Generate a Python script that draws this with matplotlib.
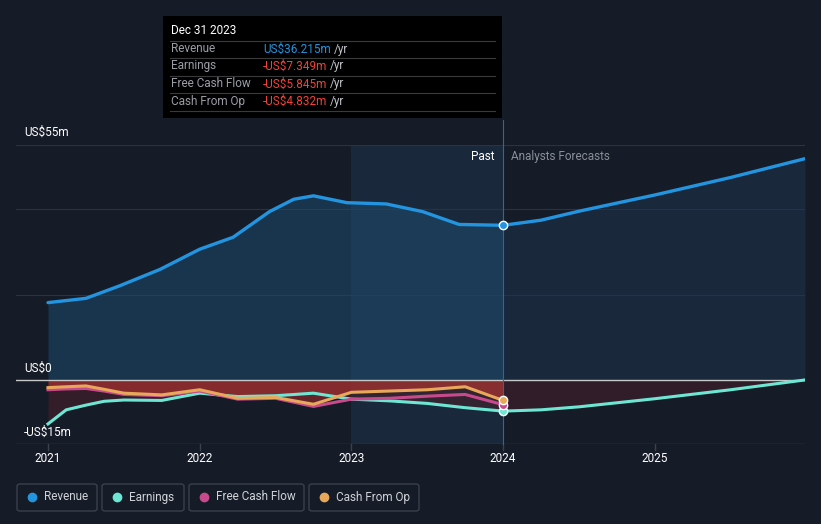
import numpy as np
import matplotlib.pyplot as plt
from matplotlib.patches import Rectangle, FancyBboxPatch

plt.rcParams['font.family'] = ['Roboto', 'DejaVu Sans']

# values in US$ millions
rev_years = [2021.0, 2021.25, 2021.47, 2021.74, 2022.0, 2022.22, 2022.46,
             2022.62, 2022.75, 2022.97, 2023.23, 2023.47, 2023.71, 2024.0]
revenue_past = [18.1, 19.1, 22.0, 25.9, 30.6, 33.4, 39.4, 42.3, 43.1, 41.5,
                41.2, 39.4, 36.4, 36.2]

years_past = [2021.0, 2021.12, 2021.25, 2021.37, 2021.5, 2021.75, 2022.0,
              2022.25, 2022.5, 2022.75, 2023.0, 2023.25, 2023.5, 2023.75,
              2024.0]
earnings_past = [-10.3, -7.0, -5.9, -5.0, -4.7, -4.8, -3.1, -3.9, -3.7, -3.1,
                 -4.5, -4.9, -5.5, -6.5, -7.3]
fcf_past = [-2.3, -2.1, -2.0, -2.6, -3.4, -3.7, -2.6, -4.5, -4.3, -6.2, -4.5,
            -4.3, -3.8, -3.4, -5.8]
cfo_past = [-1.8, -1.6, -1.4, -2.2, -3.1, -3.5, -2.3, -4.3, -4.1, -5.7, -2.9,
            -2.6, -2.3, -1.6, -4.8]

years_fc = [2024.0, 2024.25, 2024.5, 2025.0, 2025.5, 2025.99]
revenue_fc = [36.2, 37.4, 39.5, 43.3, 47.4, 51.8]
earnings_fc = [-7.3, -7.0, -6.3, -4.4, -2.3, 0.0]

tick_years = [2021, 2022, 2023, 2024, 2025]

BG = '#151b27'
BLUE = '#2394df'
TEAL = '#6ee6d4'
PINK = '#c94a8c'
ORANGE = '#e8a85a'
RED = '#f0433a'
FS = 8.5

W, H = 821, 524
fig = plt.figure(figsize=(W / 100, H / 100), dpi=100, facecolor=BG)

# axes pixel box: x 16..805, y 145..444
ax = fig.add_axes([16 / W, (H - 444) / H, (805 - 16) / W, (444 - 145) / H])
ax.set_facecolor(BG)
x0 = 2021 + (16 - 48) / 151.75
ax.set_xlim(x0, 2025.99)
ax.set_ylim(-15, 55)
for s in ax.spines.values():
    s.set_visible(False)
ax.set_xticks([])
ax.set_yticks([])

# highlighted last year of the past
ax.axvspan(2023, 2024, color='#19293b', zorder=0, lw=0)

# grid lines
for gy in [55, 40, 20]:
    ax.axhline(gy, color='#2c3340', lw=0.8, zorder=1)
ax.axhline(-15, color='#3a414d', lw=1.0, zorder=1)

# revenue fill
ax.fill_between(rev_years, 0, revenue_past, color='#1d4a6e', alpha=0.55,
                lw=0, zorder=2)
ax.fill_between(years_fc, 0, revenue_fc, color='#1d3550', alpha=0.5,
                lw=0, zorder=2)

# negative fill
ax.fill_between(years_past, 0, cfo_past, color='#a3302f', alpha=0.8,
                lw=0, zorder=2)
ax.fill_between(years_past, cfo_past, earnings_past, color='#4a2029',
                alpha=0.55, lw=0, zorder=2)
ax.fill_between(years_fc, 0, earnings_fc, color='#3a1f2a', alpha=0.75,
                lw=0, zorder=2)

ax.axhline(0, color='#c8c8c8', lw=1.0, zorder=3)

ax.plot(rev_years, revenue_past, color=BLUE, lw=2.4, zorder=5,
        solid_capstyle='round', solid_joinstyle='round')
ax.plot(years_fc, revenue_fc, color=BLUE, lw=2.4, zorder=5,
        solid_capstyle='round', solid_joinstyle='round')
ax.plot(years_past, earnings_past, color=TEAL, lw=2.2, zorder=4,
        solid_joinstyle='round')
ax.plot(years_fc, earnings_fc, color=TEAL, lw=2.2, zorder=4,
        solid_joinstyle='round')
ax.plot(years_past, fcf_past, color=PINK, lw=2.2, zorder=4,
        solid_joinstyle='round')
ax.plot(years_past, cfo_past, color=ORANGE, lw=2.2, zorder=4,
        solid_joinstyle='round')

for val, col in [(revenue_past[-1], BLUE), (earnings_past[-1], TEAL),
                 (fcf_past[-1], PINK), (cfo_past[-1], ORANGE)]:
    ax.plot([2024], [val], 'o', ms=6, mfc=col, mec='white', mew=1.0,
            zorder=6)

# vertical marker line at Dec 31 2023
ax.plot([2024, 2024], [-15, 60.8], color='#2a6a9a', lw=0.8, zorder=3,
        clip_on=False)

ax.text(2024 - 0.06, 52.4, 'Past', color='white', fontsize=FS,
        ha='right', va='center')
ax.text(2024 + 0.05, 52.4, 'Analysts Forecasts', color='#8a8f98',
        fontsize=FS, ha='left', va='center')

# y labels
fig.text(24 / W, 1 - 132 / H, 'US$55m', color='white', fontsize=FS,
         va='center')
fig.text(24 / W, 1 - 368 / H, 'US$0', color='white', fontsize=FS,
         va='center')
fig.text(24 / W, 1 - 432 / H, '-US$15m', color='white', fontsize=FS,
         va='center')

# x ticks
for yr in tick_years:
    ax.plot([yr, yr], [-15, -16.4], color='#3a414d', lw=1.0, clip_on=False)
    ax.text(yr, -18.3, str(yr), color='white', fontsize=FS, ha='center',
            va='center')

# tooltip
fig.patches.append(Rectangle((163 / W, 1 - 118 / H), (502 - 163) / W,
                             (118 - 16) / H, transform=fig.transFigure,
                             facecolor='black', edgecolor='none', zorder=10))
fig.text(171 / W, 1 - 31 / H, 'Dec 31 2023', color='white', fontsize=FS,
         va='center', zorder=11)
rows = [('Revenue', 'US$36.215m', BLUE, 49),
        ('Earnings', '-US$7.349m', RED, 66),
        ('Free Cash Flow', '-US$5.845m', RED, 84),
        ('Cash From Op', '-US$4.832m', RED, 101)]
for sep in [41, 58, 76, 93, 111]:
    fig.add_artist(plt.Line2D([170 / W, 495 / W], [1 - sep / H, 1 - sep / H],
                              transform=fig.transFigure, color='#3a3a3a',
                              lw=0.8, zorder=11))
for name, val, col, yy in rows:
    fig.text(171 / W, 1 - yy / H, name, color='#9a9ea5', fontsize=FS,
             va='center', zorder=11)
    t = fig.text(263 / W, 1 - yy / H, val, color=col, fontsize=FS,
                 va='center', zorder=11)
    fig.canvas.draw()
    bb = t.get_window_extent()
    fig.text((bb.x1 + 3) / W, 1 - yy / H, '/yr', color='#c0c3c8',
             fontsize=FS, va='center', zorder=11)

# legend boxes
legend_items = [('Revenue', BLUE, 17, 97), ('Earnings', TEAL, 102, 184),
                ('Free Cash Flow', PINK, 189, 304),
                ('Cash From Op', ORANGE, 309, 419)]
for name, col, lx, rx in legend_items:
    fig.patches.append(FancyBboxPatch((lx / W, 1 - 511 / H), (rx - lx) / W,
                                      (511 - 484) / H,
                                      boxstyle='round,pad=0,rounding_size=0.004',
                                      transform=fig.transFigure,
                                      facecolor='none', edgecolor='#3a414d',
                                      lw=1.0))
    fig.add_artist(plt.Line2D([(lx + 15) / W], [1 - 497 / H], marker='o',
                              ms=6, color=col, transform=fig.transFigure,
                              lw=0))
    fig.text((lx + 27) / W, 1 - 497 / H, name, color='#d0d3d8',
             fontsize=FS, va='center')

fig.savefig('out.png', dpi=100, facecolor=BG)
